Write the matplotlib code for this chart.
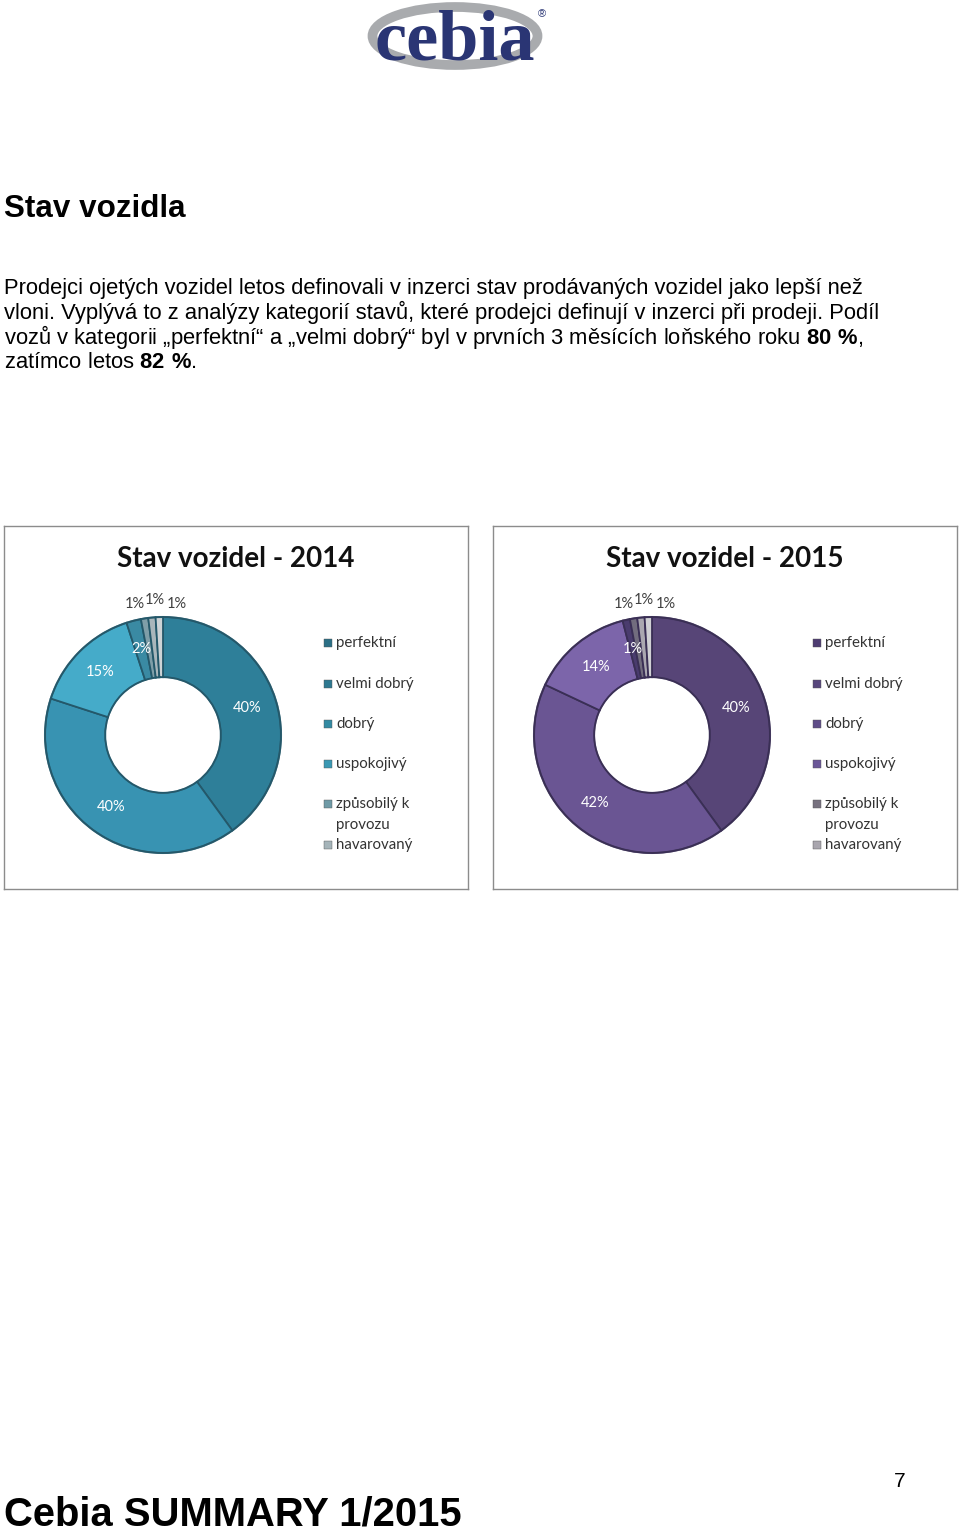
import matplotlib
matplotlib.use("Agg")
import matplotlib.pyplot as plt
from matplotlib.patches import Rectangle, Ellipse
import numpy as np

# data
categories = ["perfektní", "velmi dobrý", "dobrý", "uspokojivý",
              "způsobilý k\nprovozu", "havarovaný", "ostatní"]
values_2014 = [40, 40, 15, 2, 1, 1, 1]
values_2015 = [40, 42, 14, 1, 1, 1, 1]
colors_2014 = ["#2e7f99", "#3893b2", "#45abc9", "#3a8aa3", "#7f9ea8", "#a9b6bb", "#cdd3d6"]
colors_2015 = ["#574577", "#6a5593", "#7c65aa", "#4a3c6e", "#726d7e", "#aaa7b0", "#d0d0d4"]
legend_2014 = ["#2b6f85", "#2e7890", "#338aa2", "#3a98b3", "#6f9aa6", "#a5b4b9"]
legend_2015 = ["#4e3d72", "#57467c", "#5f4d88", "#6a5697", "#77717f", "#a9a6ae"]

W, H = 960, 1530
fig = plt.figure(figsize=(W / 100, H / 100), dpi=100)
plt.rcParams['font.family'] = ['Liberation Sans', 'DejaVu Sans']
plt.rcParams['mathtext.fontset'] = 'custom'
plt.rcParams['mathtext.rm'] = 'Liberation Sans'
plt.rcParams['mathtext.bf'] = 'Liberation Sans:bold'


def fx(x):
    return x / W


def fy(y):
    return 1 - y / H


# logo
lax = fig.add_axes([fx(360), fy(72), fx(200), 72 / H])
lax.set_xlim(0, 200)
lax.set_ylim(72, 0)
lax.axis("off")
lax.add_patch(Ellipse((95, 36), 165, 58, fill=False, ec="#a9abae", lw=7))
lax.text(95, 42, "cebia", ha="center", va="center", fontsize=52, color="#2a3574",
         fontweight="bold", family="Liberation Serif")
lax.text(182, 14, "®", ha="center", va="center", fontsize=8, color="#2a3574")

# heading + paragraph
fig.text(fx(4), fy(217), "Stav vozidla", fontsize=22.6, fontweight="bold", va="baseline")
lines = [
    "Prodejci ojetých vozidel letos definovali v inzerci stav prodávaných vozidel jako lepší než",
    "vloni. Vyplývá to z analýzy kategorií stavů, které prodejci definují v inzerci při prodeji. Podíl",
    r"vozů v kategorii „perfektní“ a „velmi dobrý“ byl v prvních 3 měsících loňského roku $\bf{80\ \%}$,",
    r"zatímco letos $\bf{82\ \%}$.",
]
for i, ln in enumerate(lines):
    fig.text(fx(4), fy(294 + 24.8 * i), ln, fontsize=15.8, va="baseline")

# footer
fig.text(fx(4), fy(1525), "Cebia SUMMARY 1/2015", fontsize=28.8, fontweight="bold", va="baseline")
fig.text(fx(900), fy(1487), "7", fontsize=15, va="baseline", ha="center")


def donut(x0, title, values, colors, leg_colors, edge):
    # frame
    bax = fig.add_axes([fx(x0), fy(889), fx(464), 363 / H])
    bax.set_xticks([])
    bax.set_yticks([])
    for s in bax.spines.values():
        s.set_color("#8c8c8c")
        s.set_linewidth(1)
    bax.text(0.5, 0.91, title, transform=bax.transAxes, ha="center", va="center",
             fontsize=20, fontweight="bold", family="Lato", color="#111111")

    cx, cy, r = x0 + 159, 735, 118
    half = r * 1.3
    ax = fig.add_axes([fx(cx - half), fy(cy + half), 2 * half / W, 2 * half / H])
    wedges, _ = ax.pie(values, colors=colors, startangle=90, counterclock=False,
                       radius=1, wedgeprops=dict(width=0.51, edgecolor=edge, linewidth=1.3))
    ax.set_xlim(-1.3, 1.3)
    ax.set_ylim(-1.3, 1.3)
    ax.set_aspect("equal")
    ax.axis("off")
    # bevel rings
    ax.add_patch(plt.Circle((0, 0), 1.0, fill=False, ec=edge, lw=1.5, alpha=0.7))
    ax.add_patch(plt.Circle((0, 0), 0.49, fill=False, ec=edge, lw=1.2, alpha=0.6))

    outside_dx = [-0.24, -0.07, 0.12]
    outside_dy = [1.11, 1.14, 1.11]
    k = 0
    for i, (w, v) in enumerate(zip(wedges, values)):
        ang = np.deg2rad((w.theta1 + w.theta2) / 2)
        if i < 4:
            ax.text(0.75 * np.cos(ang), 0.75 * np.sin(ang), f"{v}%", ha="center", va="center",
                    fontsize=10.5, color="white", family="Lato")
        else:
            ax.text(outside_dx[k], outside_dy[k], f"{v}%", ha="center", va="center",
                    fontsize=10.5, color="#404040", family="Lato")
            k += 1

    # legend
    leg_y = [643, 684, 724, 764, 804, 845]
    for name, c, y in zip(categories[:6], leg_colors, leg_y):
        fig.patches.append(Rectangle((fx(x0 + 320), fy(y + 4)), 8 / W, 8 / H,
                                     transform=fig.transFigure, color=c, ec="#555555", lw=0.3))
        nm = name.split("\n")
        for j, part in enumerate(nm):
            fig.text(fx(x0 + 332), fy(y + 21 * j), part, fontsize=10.8, family="Lato",
                     va="center", color="#333333")


donut(4, "Stav vozidel - 2014", values_2014, colors_2014, legend_2014, "#24586a")
donut(493, "Stav vozidel - 2015", values_2015, colors_2015, legend_2015, "#3a2f55")

fig.savefig("out.png", dpi=100)
